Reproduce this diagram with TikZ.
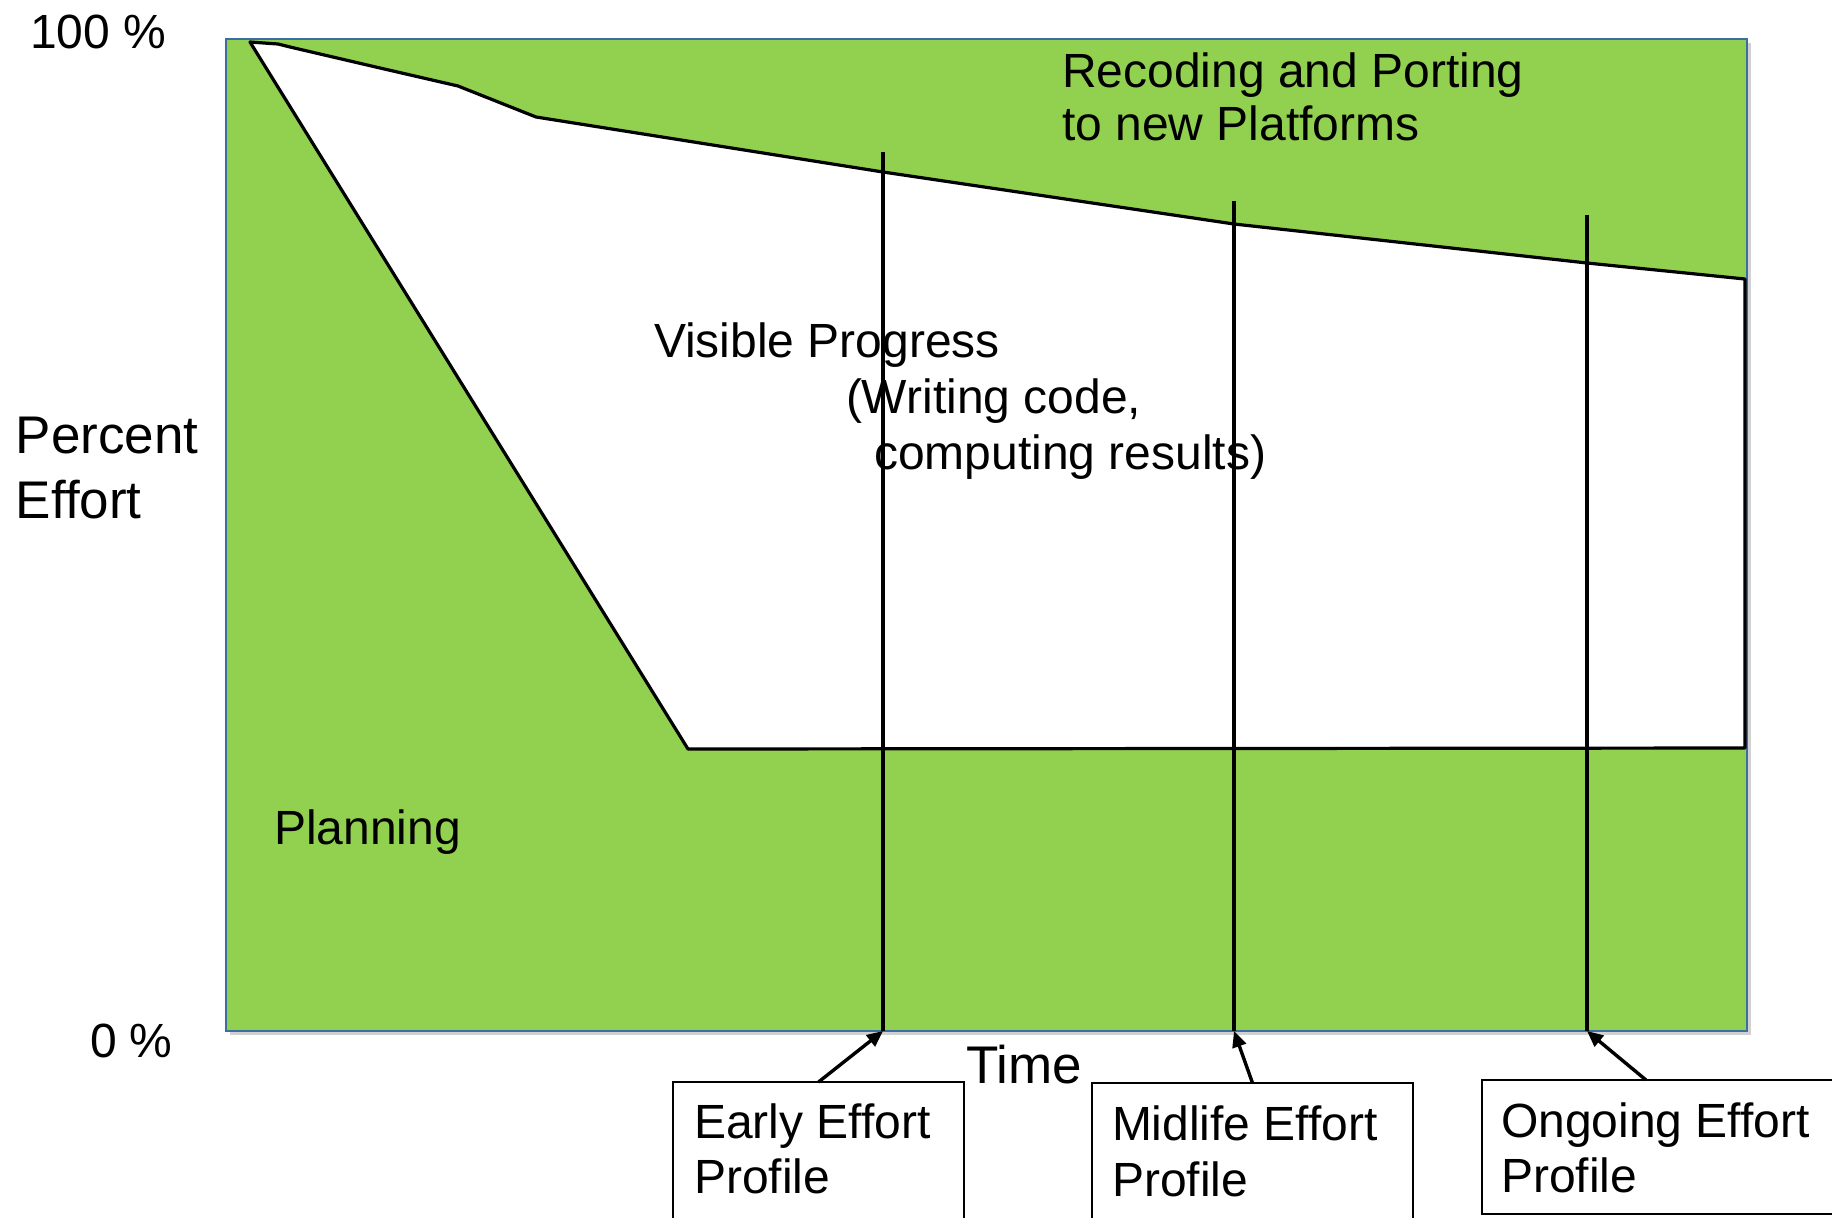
\documentclass[tikz,border=0pt]{standalone}
\usepackage{fontspec}
\setmainfont{Liberation Sans}
\usetikzlibrary{arrows.meta,calc}
\definecolor{areagreen}{HTML}{92D050}
\definecolor{frameblue}{HTML}{3A6EA5}
\begin{document}
\begin{tikzpicture}[x=0.5pt,y=-0.5pt,
  lbl/.style={inner sep=0pt,outer sep=0pt,anchor=base west,font=\fontsize{24}{28}\selectfont},
  biglbl/.style={lbl,font=\fontsize{26.5}{31}\selectfont},
  curve/.style={draw=black,line width=1.6pt,line join=round},
  profline/.style={draw=black,line width=1.8pt},
  profbox/.style={draw=black,line width=0.8pt,inner sep=0pt,outer sep=0pt,anchor=north west,fill=white},
  pointer/.style={draw=black,line width=1.7pt,-{Triangle[length=8pt,width=7pt]}}]
\useasboundingbox (0,0) rectangle (1832,1217);
\clip (0,0) rectangle (1832,1217);
% frame
\coordinate (fnw) at (226,39);
\coordinate (fse) at (1747,1031);
\fill[black!18] (230,43) rectangle (1751,1035);
\fill[areagreen] (fnw) rectangle (fse);
\draw[frameblue,line width=1pt] (fnw) rectangle (fse);
% white visible-progress region
\fill[white] (250,42) -- (278,44) -- (290,47) -- (380,68) -- (458,86) -- (536,117)
  -- (883,172) -- (1234,224) -- (1587,263) -- (1745,279) -- (1745,748) -- (688,749) -- cycle;
\draw[curve] (250,42) -- (278,44) -- (290,47) -- (380,68) -- (458,86) -- (536,117)
  -- (883,172) -- (1234,224) -- (1587,263) -- (1745,279) -- (1745,748) -- (688,749) -- cycle;
% profile lines
\coordinate (v1t) at (883,152);  \coordinate (v1b) at (883,1031);
\coordinate (v2t) at (1234,201); \coordinate (v2b) at (1234,1031);
\coordinate (v3t) at (1587,215); \coordinate (v3b) at (1587,1031);
\draw[profline] (v1t) -- (v1b);
\draw[profline] (v2t) -- (v2b);
\draw[profline] (v3t) -- (v3b);
% texts
\node[lbl] (hundred) at (30,48) {100 \%};
\node[lbl] (zero) at (90,1057) {0 \%};
\node[biglbl] (pct1) at (16,453) {Percent};
\node[biglbl] (pct2) at (16,518) {Effort};
\node[biglbl] (time) at (966,1083) {Time};
\node[lbl] (rec1) at (1062,87) {Recoding and Porting};
\node[lbl] (rec2) at (1062,140) {to new Platforms};
\node[lbl] (vis1) at (654,357) {Visible Progress};
\node[lbl] (vis2) at (846,413) {(Writing code,};
\node[lbl] (vis3) at (874,469) {computing results)};
\node[lbl] (plan) at (274,844) {Planning};
% boxes
\node[profbox,minimum width=145.5pt,minimum height=71.5pt] (early) at (673,1082) {};
\node[profbox,minimum width=160.5pt,minimum height=71pt] (mid) at (1092,1083) {};
\node[profbox,minimum width=179pt,minimum height=67pt] (ongoing) at (1482,1080) {};
\node[lbl] (early1) at (694,1138) {Early Effort};
\node[lbl] (early2) at (694,1193) {Profile};
\node[lbl] (mid1) at (1112,1140) {Midlife Effort};
\node[lbl] (mid2) at (1112,1196) {Profile};
\node[lbl] (on1) at (1501,1137) {Ongoing Effort};
\node[lbl] (on2) at (1501,1192) {Profile};
% pointers
\draw[pointer] (early.north) -- (v1b);
\draw[pointer] (mid.north) -- (v2b);
\draw[pointer] ($(ongoing.north west)+(164,0)$) -- (v3b);
\end{tikzpicture}
\end{document}
